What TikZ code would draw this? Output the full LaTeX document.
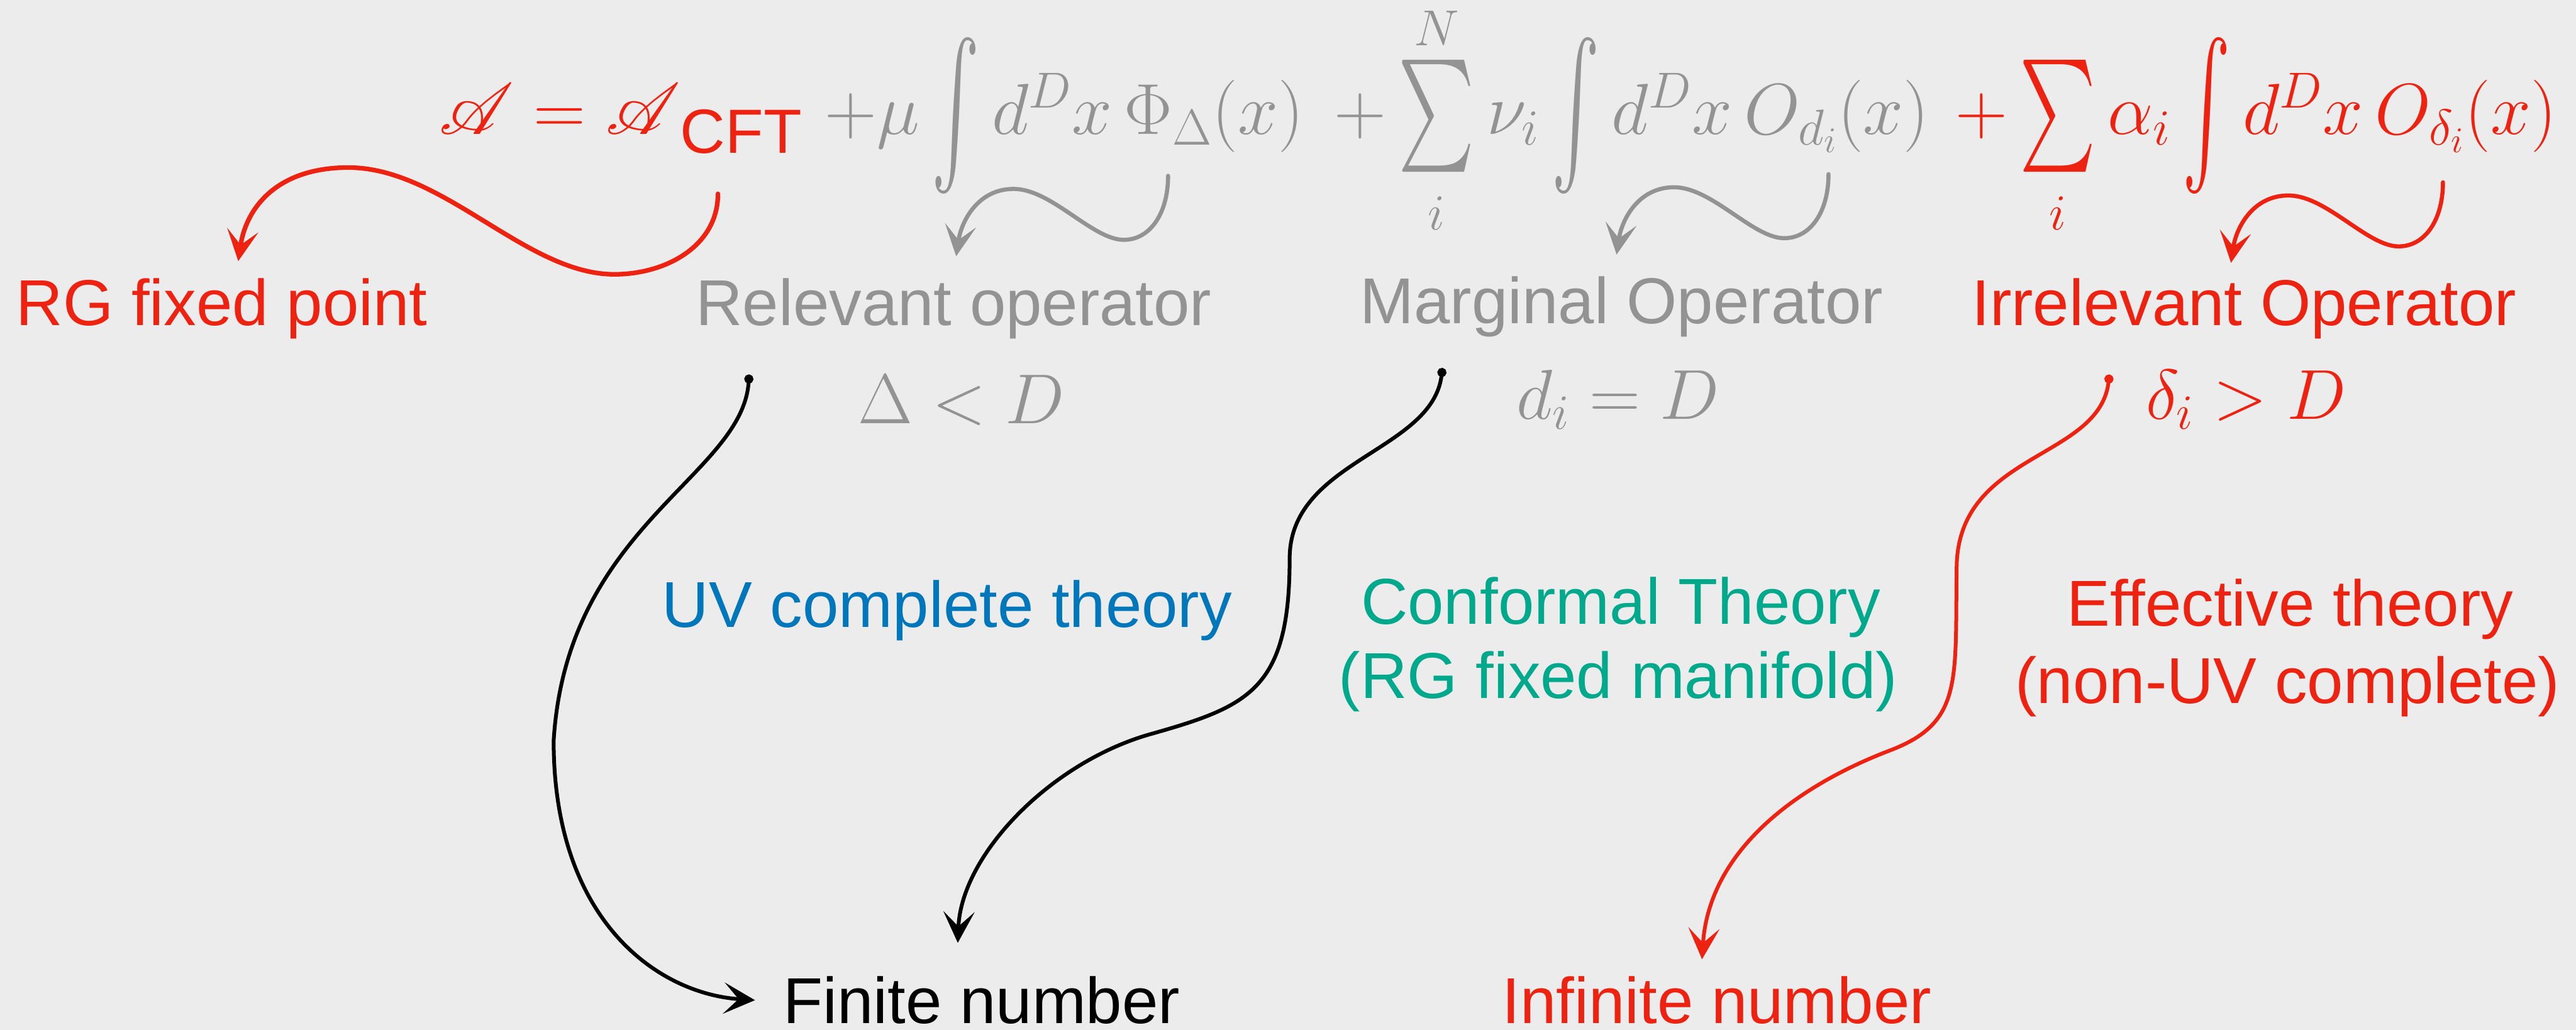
\RequirePackage{fix-cm}
\documentclass[tikz,border=0pt]{standalone}
\usepackage[no-math]{fontspec}
\setmainfont{Liberation Sans}
\setsansfont{Liberation Sans}
\usepackage{amsmath}
\DeclareFontFamily{U}{rsfs}{\skewchar\font127 }
\DeclareFontShape{U}{rsfs}{m}{n}{<->rsfs10}{}
\usepackage{mathrsfs}
\DeclareFontFamily{OMX}{cmex}{}
\DeclareFontShape{OMX}{cmex}{m}{n}{<->cmex10}{}
\usepackage{graphicx}
\usetikzlibrary{arrows.meta}
\definecolor{bg}{RGB}{236,236,236}
\definecolor{rd}{RGB}{238,34,17}
\definecolor{gr}{RGB}{147,147,147}
\definecolor{bl}{RGB}{0,119,187}
\definecolor{tl}{RGB}{0,168,140}
\newcommand\tallint{\mathop{\vcenter{\hbox{\scalebox{1}[1.95]{$\textstyle\int$}}}}\nolimits}
\newcommand\tallsum{\mathop{\vcenter{\hbox{\scalebox{1}[1.55]{$\textstyle\sum$}}}}\limits}
\newcommand\lowi{\raisebox{-9pt}{$\scriptstyle i$}}
\begin{document}
\begin{tikzpicture}[x=1pt,y=1pt,
  lab/.style={inner sep=0pt, anchor=base, font=\fontsize{39.5}{46}\selectfont},
  mth/.style={inner sep=0pt, anchor=base west, font=\fontsize{44}{48}\selectfont},
  cnd/.style={inner sep=0pt, anchor=base west, font=\fontsize{43}{48}\selectfont},
  wig/.style={line width=2.5pt, line cap=round, -{Stealth[length=19pt,width=19pt,inset=9pt]}},
  blk/.style={line width=2.3pt, line cap=round, {Circle[length=5.5pt]}-{Stealth[length=19pt,width=19pt,inset=9pt]}}]
\fill[bg] (0,0) rectangle (1568,-627);
\useasboundingbox (0,0) rectangle (1568,-627);

% formula
\node[mth, text=rd] (act) at (267,-81.6) {$\mathscr{A}=\mathscr{A}$\raisebox{-11.6pt}{\fontsize{38}{40}\selectfont CFT}};
\node[mth, text=gr] (rel) at (502,-81.6) {$+\mu\tallint d^D x\,\Phi_\Delta(x)$};
\node[mth, text=gr] (mar) at (812,-81.6) {$+\tallsum_{\lowi}^N\nu_i\tallint d^D x\,O_{d_i}(x)$};
\node[mth, text=rd] (irr) at (1190,-81.6) {$+\tallsum_{\lowi}\alpha_i\tallint d^D x\,O_{\delta_i}(x)$};

% conditions
\node[cnd, text=gr] (c1) at (522,-257.8) {$\Delta<D$};
\node[cnd, text=gr] (c2) at (923,-255) {$d_i=D$};
\node[cnd, text=rd] (c3) at (1306,-255) {$\delta_i>D$};

% labels
\node[lab, text=rd] (rgfp) at (135,-198) {RG fixed point};
\node[lab, text=gr] (relop) at (580.5,-198) {Relevant operator};
\node[lab, text=gr] (marop) at (987,-197) {Marginal Operator};
\node[lab, text=rd] (irrop) at (1366,-198) {Irrelevant Operator};
\node[lab, text=bl] (uv) at (576.5,-382) {UV complete theory};
\node[lab, text=tl] (cft1) at (986.5,-380) {Conformal Theory};
\node[lab, text=tl] (cft2) at (985,-425) {(RG fixed manifold)};
\node[lab, text=rd] (eff1) at (1394,-381) {Effective theory};
\node[lab, text=rd] (eff2) at (1392.5,-428) {(non-UV complete)};
\node[lab, text=black] (fin) at (597.5,-623) {Finite number};
\node[lab, text=rd] (inf) at (1045,-623) {Infinite number};

% coordinates
\coordinate (r0s) at (437,-118);
\coordinate (r0e) at (145,-159);
\coordinate (w1) at (711,-107);
\coordinate (w2) at (1113,-106);
\coordinate (w3) at (1487,-111);
\coordinate (b1s) at (456,-228);
\coordinate (b2s) at (878,-224);
\coordinate (b2e) at (583,-574);
\coordinate (r3s) at (1284,-228);
\coordinate (r3e) at (1036,-584);

% red wiggle to RG fixed point
\draw[wig, rd, line width=2.8pt] (r0s) .. controls (437,-150) and (405,-167) .. (374,-167)
  .. controls (320,-167) and (270,-102) .. (212,-102)
  .. controls (170,-102) and (150,-125) .. (r0e);

% small wiggles
\draw[wig, gr] (w1) .. controls +(0,-23) and +(16,0) .. ++(-27,-39)
  .. controls +(-19,0) and +(23,0) .. ++(-67,31)
  .. controls +(-22,0) and +(3,21) .. ++(-35,-41);
\draw[wig, gr] (w2) .. controls +(0,-23) and +(16,0) .. ++(-27,-39)
  .. controls +(-19,0) and +(23,0) .. ++(-67,31)
  .. controls +(-22,0) and +(3,21) .. ++(-35,-41);
\draw[wig, rd] (w3) .. controls +(0,-23) and +(16,0) .. ++(-27,-39)
  .. controls +(-19,0) and +(23,0) .. ++(-67,31)
  .. controls +(-22,0) and +(3,21) .. ++(-35,-41);

% long connectors
\draw[blk, black] (b1s) .. controls (452,-290) and (345,-320) .. (337,-451)
  .. controls (337,-560) and (400,-605) .. ([xshift=-17pt]fin.west);
\draw[blk, black] (b2s) .. controls (872,-275) and (785,-280) .. (785,-340)
  .. controls (785,-420) and (760,-430) .. (700,-447)
  .. controls (640,-464) and (585,-520) .. (b2e);
\draw[blk, rd] (r3s) .. controls (1278,-280) and (1192,-275) .. (1191,-345)
  .. controls (1190,-415) and (1195,-440) .. (1150,-457)
  .. controls (1090,-480) and (1040,-520) .. (r3e);
\end{tikzpicture}
\end{document}
